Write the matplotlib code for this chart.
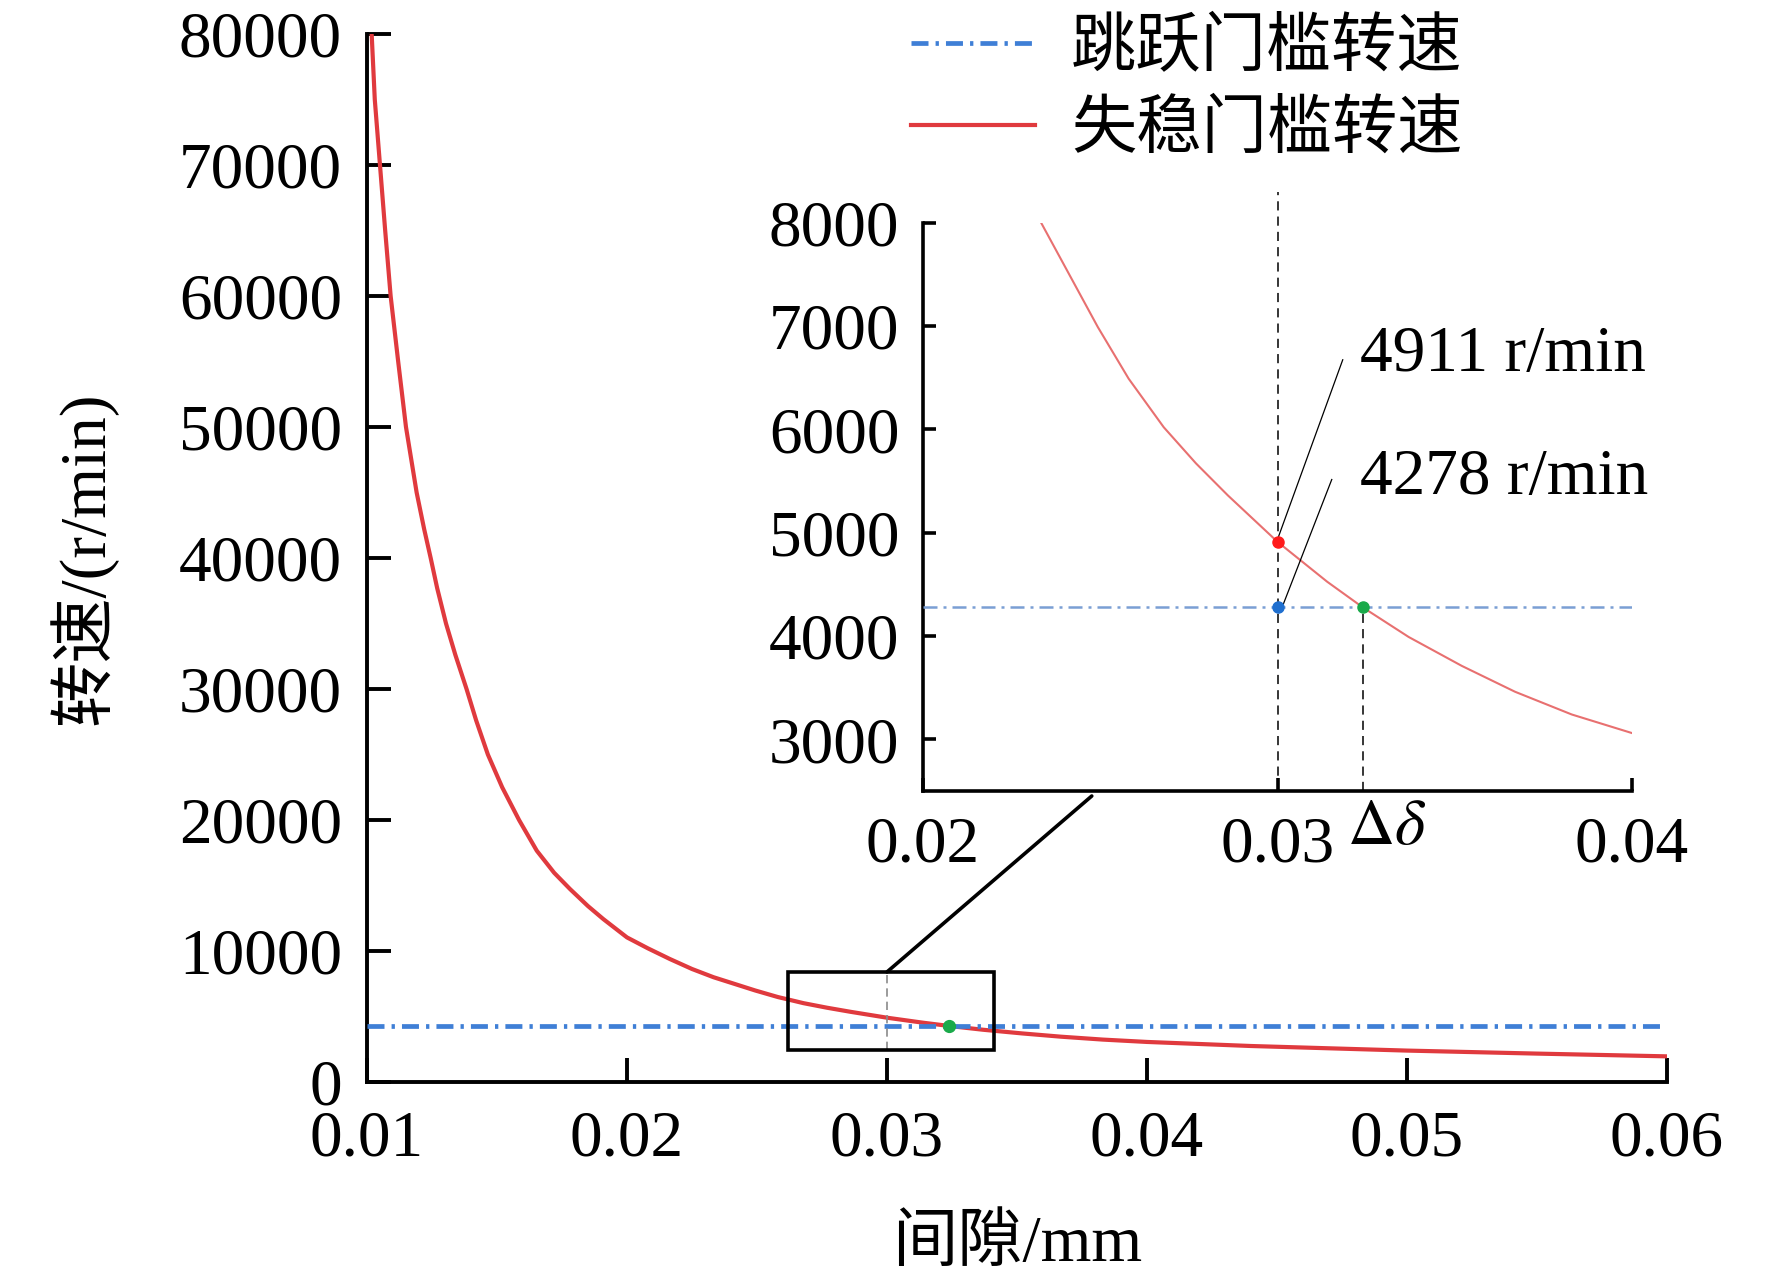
import matplotlib
matplotlib.use("Agg")
import matplotlib.pyplot as plt
from matplotlib.patches import Rectangle, ConnectionPatch

plt.rcParams['font.family'] = ['Liberation Serif', 'Noto Sans CJK SC']
plt.rcParams['mathtext.fontset'] = 'stix'

# values (gap in mm, speed in r/min)
gap = [0.01018, 0.0103, 0.0105, 0.0107, 0.01091, 0.0112, 0.0115, 0.01191,
       0.0122, 0.01245, 0.0127, 0.01304, 0.0134, 0.01383, 0.0142, 0.01465,
       0.0152, 0.01585, 0.01653, 0.0172, 0.01781, 0.0185, 0.01909, 0.02,
       0.0208, 0.02165, 0.0225, 0.02333, 0.02493, 0.0258, 0.02679, 0.0277,
       0.0286, 0.03, 0.0314, 0.0324, 0.0337, 0.0352, 0.0367, 0.0383, 0.04,
       0.044, 0.05, 0.055, 0.06]
speed = [80000, 75000, 70000, 65000, 60000, 55000, 50000, 45000,
         42200, 40000, 37700, 35000, 32600, 30000, 27600, 25000,
         22500, 20000, 17660, 15970, 14730, 13430, 12440, 11040,
         10210, 9390, 8630, 8000, 6990, 6490, 6020, 5670,
         5360, 4911, 4525, 4278, 3990, 3710, 3460, 3240, 3060,
         2750, 2400, 2170, 1960]
jump_speed = 4278          # 跳跃门槛转速
design_gap = 0.03
unstable_at_design = 4911  # 失稳门槛转速 at 0.03
cross_gap = 0.0324         # where the two curves meet

main_xticks = [0.01, 0.02, 0.03, 0.04, 0.05, 0.06]
main_yticks = [0, 10000, 20000, 30000, 40000, 50000, 60000, 70000, 80000]
inset_xticks = [0.02, 0.03, 0.04]
inset_yticks = [3000, 4000, 5000, 6000, 7000, 8000]
labels = ['跳跃门槛转速', '失稳门槛转速']

FS = 47
blue_main = '#3f7fd6'
red_main = '#e03a3e'

fig = plt.figure(figsize=(17.72, 12.84), dpi=100)
ax = fig.add_axes([0.2071, 0.1573, 0.7336, 0.8162])

hb, = ax.plot([0.01, 0.06], [jump_speed, jump_speed], color=blue_main, lw=3.4,
              dashes=(3.6, 1.5, 0.7, 1.5), zorder=3)
hr, = ax.plot(gap, speed, color=red_main, lw=3.0, zorder=2)
ax.plot([cross_gap], [jump_speed], 'o', color='#1aaa4a', ms=8.5, zorder=4)

# zoom box
ax.add_patch(Rectangle((0.0262, 2450), 0.0079, 5950, fill=False, ec='black', lw=2.6, zorder=5))
ax.plot([design_gap, design_gap], [2450, 8400], color='#8a8a8a', lw=1.2, ls=(0, (5, 3)), zorder=4)

ax.set_xlim(0.01, 0.06)
ax.set_ylim(0, 80000)
ax.set_xticks(main_xticks)
ax.set_xticklabels(['%.2f' % v for v in main_xticks])
ax.set_yticks(main_yticks)
ax.set_yticklabels([str(v) for v in main_yticks])
for s in ['top', 'right']:
    ax.spines[s].set_visible(False)
for s in ['left', 'bottom']:
    ax.spines[s].set_linewidth(2.8)
ax.tick_params(direction='in', length=17, width=2.8, labelsize=FS)
ax.tick_params(axis='x', pad=20)
ax.tick_params(axis='y', pad=18)

ax.set_xlabel('间隙/mm', fontsize=FS)
ax.xaxis.set_label_coords(0.5, -0.127)
ax.set_ylabel('转速/(r/min)', fontsize=FS)
ax.yaxis.set_label_coords(-0.192, 0.5)

leg = ax.legend([hb, hr], labels, loc='upper left', frameon=False, fontsize=FS,
                bbox_to_anchor=(911 / 1772, 1 - 19 / 1284), bbox_transform=fig.transFigure,
                borderpad=0, borderaxespad=0, handlelength=1.9, handletextpad=0.55,
                labelspacing=0.32)

# inset
ins = fig.add_axes([0.5209, 0.384, 0.4001, 0.4426])
ins.patch.set_alpha(0)
ins.plot([0.02, 0.04], [jump_speed, jump_speed], color='#7a9fd4', lw=1.8,
         dashes=(5.6, 2.4, 1.2, 2.4), zorder=3)
ins.plot(gap, speed, color='#e87070', lw=1.5, zorder=2)
ins.plot([design_gap, design_gap], [2500, 8300], color='black', lw=1.1,
         ls=(0, (6, 4)), clip_on=False, zorder=2)
ins.plot([cross_gap, cross_gap], [2500, jump_speed], color='black', lw=1.1,
         ls=(0, (6, 4)), zorder=2)
ins.plot([design_gap], [unstable_at_design], 'o', color='#ff1a1a', ms=8, zorder=5)
ins.plot([design_gap], [jump_speed], 'o', color='#1f6fcf', ms=8, zorder=5)
ins.plot([cross_gap], [jump_speed], 'o', color='#1aaa4a', ms=8, zorder=5)

ins.plot([0.03003, 0.03184], [4963, 6673], color='black', lw=0.9, zorder=4)
ins.plot([0.03014, 0.03153], [4287, 5514], color='black', lw=0.9, zorder=4)
ins.text(0.03232, 6567, '%d r/min' % unstable_at_design, fontsize=FS, va='baseline')
ins.text(0.03232, 5372, '%d r/min' % jump_speed, fontsize=FS, va='baseline')
ins.text(0.03195, 1990, r'$\Delta\delta$', fontsize=FS, va='baseline')

ins.set_xlim(0.02, 0.04)
ins.set_ylim(2500, 8000)
ins.set_xticks(inset_xticks)
ins.set_xticklabels(['%.2f' % v for v in inset_xticks])
ins.set_yticks(inset_yticks)
ins.set_yticklabels([str(v) for v in inset_yticks])
for s in ['top', 'right']:
    ins.spines[s].set_visible(False)
for s in ['left', 'bottom']:
    ins.spines[s].set_linewidth(2.6)
ins.tick_params(direction='in', length=9.6, width=2.6, labelsize=FS)
ins.tick_params(axis='x', pad=18)
ins.tick_params(axis='y', pad=17)

con = ConnectionPatch(xyA=(design_gap, 8400), coordsA=ax.transData,
                      xyB=(0.02476, 2451), coordsB=ins.transData,
                      color='black', lw=2.6)
fig.add_artist(con)

fig.savefig('out.png', dpi=100)
